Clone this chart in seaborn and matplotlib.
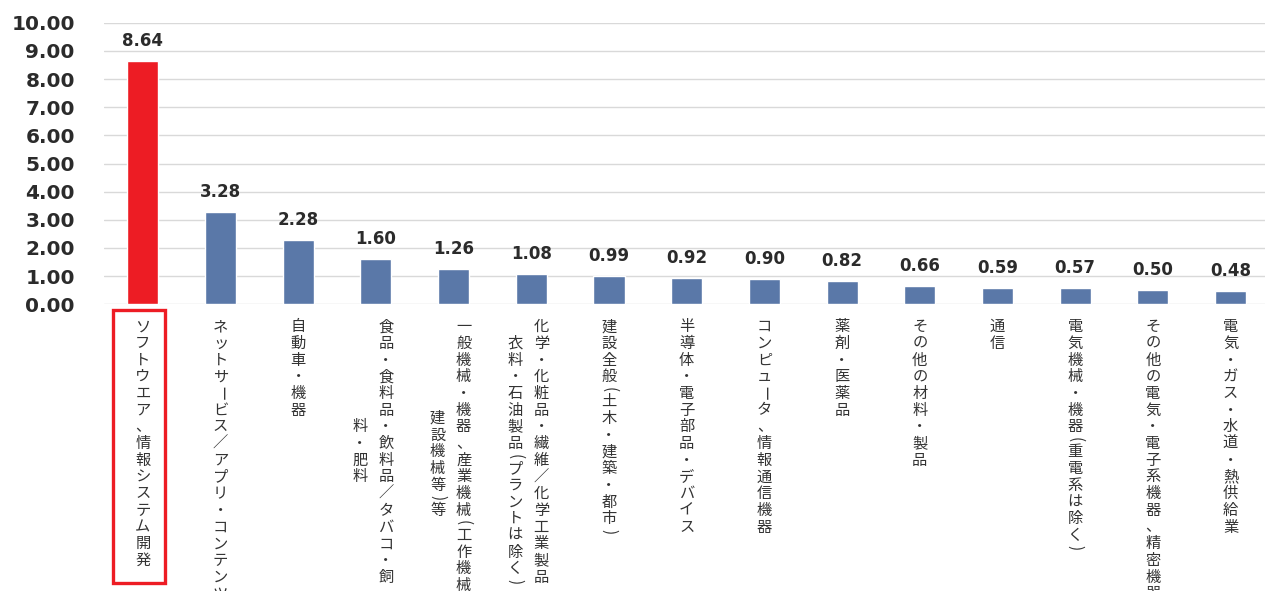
import matplotlib
matplotlib.use("Agg")
import matplotlib.pyplot as plt
from matplotlib.patches import Rectangle
import seaborn as sns
import numpy as np
import pandas as pd

# Industry categories, each split into the columns of its vertical label
label_columns = [
    ["ソフトウエア、情報システム開発"],
    ["ネットサービス／アプリ・コンテンツ"],
    ["自動車・機器"],
    ["食品・食料品・飲料品／タバコ・飼", "料・肥料"],
    ["一般機械・機器、産業機械(工作機械・", "建設機械等)等"],
    ["化学・化粧品・繊維／化学工業製品・", "衣料・石油製品(プラントは除く)"],
    ["建設全般(土木・建築・都市)"],
    ["半導体・電子部品・デバイス"],
    ["コンピュータ、情報通信機器"],
    ["薬剤・医薬品"],
    ["その他の材料・製品"],
    ["通信"],
    ["電気機械・機器(重電系は除く)"],
    ["その他の電気・電子系機器、精密機器"],
    ["電気・ガス・水道・熱供給業"],
]
categories = ["".join(cols) for cols in label_columns]
values = [8.64, 3.28, 2.28, 1.60, 1.26, 1.08, 0.99, 0.92, 0.90, 0.82,
          0.66, 0.59, 0.57, 0.50, 0.48]
y_ticks = [0, 1, 2, 3, 4, 5, 6, 7, 8, 9, 10]

RED = "#ED1C24"
BLUE = "#5a78a8"
TEXT = "#2b2b2b"

sns.set_theme(style="white")
plt.rcParams["font.family"] = ["DejaVu Sans"]

W, H = 1265, 591
fig = plt.figure(figsize=(W / 100, H / 100), dpi=100)
ax_left, ax_right, ax_top, ax_bottom = 104.0, 1269.4, 22.7, 304.3
ax = fig.add_axes([ax_left / W, (H - ax_bottom) / H,
                   (ax_right - ax_left) / W, (ax_bottom - ax_top) / H])

df = pd.DataFrame({"category": categories, "value": values})
palette = {c: (RED if i == 0 else BLUE) for i, c in enumerate(categories)}
sns.barplot(data=df, x="category", y="value", hue="category", palette=palette,
            width=0.4, saturation=1, legend=False, ax=ax)

ax.set_xlim(-0.5, len(categories) - 0.5)
ax.set_ylim(0, 10)
ax.set_yticks(y_ticks)
ax.set_yticklabels([f"{v:.2f}" for v in y_ticks])
ax.tick_params(axis="y", length=0, pad=21, labelsize=14.5, labelcolor=TEXT)
for t in ax.get_yticklabels():
    t.set_fontweight("bold")
ax.tick_params(axis="x", length=0, labelbottom=False)
ax.set_xlabel("")
ax.set_ylabel("")
for s in ax.spines.values():
    s.set_visible(False)
ax.yaxis.grid(True, color="#d9d9d9", lw=1)
ax.set_axisbelow(True)

# value labels above each bar
for cont in ax.containers:
    ax.bar_label(cont, fmt="%.2f", padding=8, fontsize=12,
                 fontweight="bold", color=TEXT)

# vertical (top-to-bottom) category labels
ax_h = ax_bottom - ax_top
slot = (ax_right - ax_left) / len(categories)
pitch = 16.7
top_gap = 14.0
half_width = set("()")
turned = set("ー()")          # glyphs turned a quarter for vertical setting
xtrans = ax.get_xaxis_transform()
jp_font = ["Noto Sans CJK JP", "DejaVu Sans"]

def char_units(ch):
    return 0.5 if ch in half_width else 1.0

for i, cols in enumerate(label_columns):
    lengths = [sum(char_units(c) for c in col) for col in cols]
    longest = max(lengths)
    if len(cols) == 1:
        offsets = [0.0]
    else:
        offsets = [10.0, -16.0]
    for col, length, dx in zip(cols, lengths, offsets):
        pos = (longest - length) / 2
        for ch in col:
            w = char_units(ch)
            yc = top_gap + (pos + w / 2) * pitch
            pos += w
            rot = -90 if ch in turned else 0
            ax.text(i + dx / slot, -yc / ax_h, ch, transform=xtrans,
                    ha="center", va="center", rotation=rot,
                    fontsize=11, color="#333333", family=jp_font,
                    clip_on=False)

# highlight frame around the first category label
bx0, bx1, by0, by1 = 113.0, 165.0, 310.0, 583.0
cx0 = ax_left + slot / 2
ax.add_patch(Rectangle(((bx0 - cx0) / slot, -(by1 - ax_bottom) / ax_h),
                       (bx1 - bx0) / slot, (by1 - by0) / ax_h,
                       transform=xtrans, fill=False, edgecolor=RED,
                       lw=2.4, clip_on=False))

fig.savefig("out.png", dpi=100)
